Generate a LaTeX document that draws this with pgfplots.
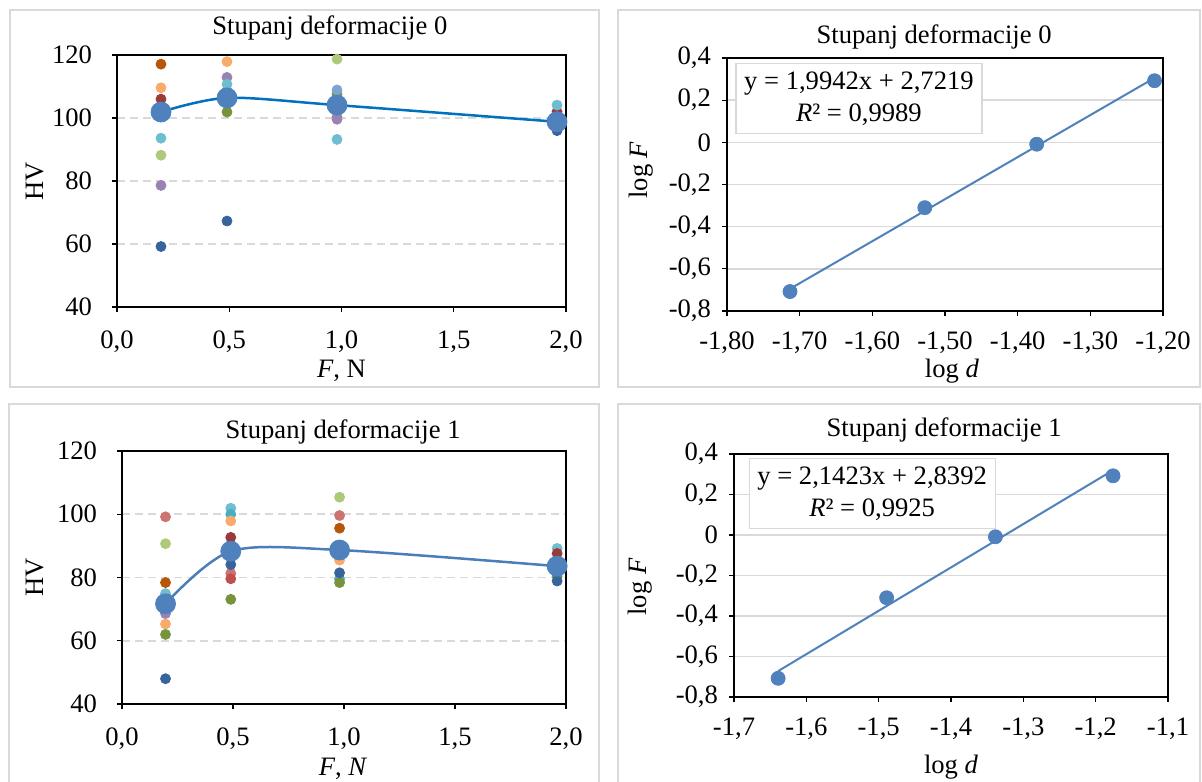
\documentclass[border=0pt]{standalone}
\usepackage{fontspec}
\setmainfont{Liberation Serif}
\usepackage{pgfplots}
\pgfplotsset{compat=1.18}
\definecolor{framegray}{HTML}{D9D9D9}
\definecolor{gridgray}{HTML}{D9D9D9}
\definecolor{cdorange}{HTML}{B65708}
\definecolor{clorange}{HTML}{F9AB6B}
\definecolor{cdred}{HTML}{9B3B39}
\definecolor{cred}{HTML}{C0504D}
\definecolor{ccyan}{HTML}{6FBDD1}
\definecolor{ccyanb}{HTML}{4BACC6}
\definecolor{clgreen}{HTML}{AFC97A}
\definecolor{cpurple}{HTML}{9983B5}
\definecolor{cdblue}{HTML}{37649A}
\definecolor{colive}{HTML}{77933C}
\definecolor{clblue}{HTML}{7FA3D1}
\definecolor{cpink}{HTML}{CD7371}
\definecolor{meanblue}{HTML}{4F81BD}
\definecolor{curveA}{HTML}{0070C0}
\definecolor{curveB}{HTML}{4A7EBB}
\newcommand\fsz{\fontsize{13.3}{16}\selectfont}
\pgfplotsset{
  base/.style={
    scale only axis, clip=false, anchor=south west,
    tick align=outside, major tick length=2.5pt, tick pos=left,
    tick style={black, line width=0.6pt},
    axis line style={line width=0.8pt},
    tick label style={font=\fsz},
    label style={font=\fsz},
    xlabel style={anchor=center},
    ylabel style={anchor=center},
  },
  leftax/.style={
    base, xmin=0, xmax=2, ymin=40, ymax=120,
    xtick={0,0.5,1,1.5,2}, xticklabels={{0,0},{0,5},{1,0},{1,5},{2,0}},
    ytick={40,60,80,100,120}, yticklabels={40,60,80,100,120},
    xticklabel style={yshift=-6pt},
    yticklabel style={xshift=-6.5pt},
    ymajorgrids, grid style={gridgray, line width=0.8pt, dash pattern=on 4pt off 2.5pt},
  },
  rightax/.style={
    base, ymin=-0.8, ymax=0.4,
    ytick={-0.8,-0.6,-0.4,-0.2,0,0.2,0.4},
    yticklabels={{-0,8},{-0,6},{-0,4},{-0,2},0,{0,2},{0,4}},
    xticklabel style={yshift=-4.5pt},
    yticklabel style={xshift=-2pt},
    ymajorgrids, grid style={gridgray, line width=0.8pt, solid},
  },
  sm/.style={only marks, mark=*, mark size=2.5pt, color=#1},
  big/.style={only marks, mark=*, mark size=5pt, color=meanblue},
  rp/.style={only marks, mark=*, mark size=3.5pt, color=meanblue},
}
\begin{document}
\begin{tikzpicture}
\useasboundingbox (0,0) rectangle (601pt,-390.5pt);
\draw[framegray, line width=1pt] (5pt,-5pt) rectangle (299.5pt,-193.5pt);
\draw[framegray, line width=1pt] (309pt,-5pt) rectangle (600pt,-193.5pt);
\draw[framegray, line width=1pt] (4.5pt,-202pt) rectangle (299.5pt,-400pt);
\draw[framegray, line width=1pt] (309pt,-202pt) rectangle (600pt,-400pt);

% ---------- top left ----------
\begin{axis}[leftax, at={(58.5pt,-153.5pt)}, width=224.5pt, height=126pt,
  xlabel={\textit{F}, N}, xlabel style={at={(axis description cs:0.5,-0.255)}},
  ylabel={HV}, ylabel style={at={(axis description cs:-0.183,0.5)}}]
\addplot[sm=cdorange] coordinates {(0.196,117.1)};
\addplot[sm=clorange] coordinates {(0.196,109.6) (0.49,117.9)};
\addplot[sm=cdred] coordinates {(0.196,106.0) (0.49,108.5) (1.96,102.0)};
\addplot[sm=cpink] coordinates {(0.98,100.2)};
\addplot[sm=cpurple] coordinates {(0.196,78.6) (0.49,112.9) (0.98,99.6)};
\addplot[sm=ccyan] coordinates {(0.196,93.6) (0.49,110.7) (0.98,93.2) (1.96,104.1)};
\addplot[sm=clgreen] coordinates {(0.196,88.2) (0.98,118.7)};
\addplot[sm=colive] coordinates {(0.49,101.9) (0.98,107.6)};
\addplot[sm=clblue] coordinates {(0.98,108.9)};
\addplot[sm=cdblue] coordinates {(0.196,59.2) (0.49,67.3) (1.96,96.0)};
\addplot[smooth, color=curveA, line width=1.25pt, no marks] coordinates {(0.196,101.9) (0.49,106.4) (0.98,104.1) (1.96,98.8)};
\addplot[big] coordinates {(0.196,101.9) (0.49,106.4) (0.98,104.1) (1.96,98.8)};
\node[font=\fsz] at (rel axis cs:0.474,1.107) {Stupanj deformacije 0};
\end{axis}

% ---------- top right ----------
\begin{axis}[rightax, at={(363.5pt,-155.5pt)}, width=218pt, height=126.5pt,
  xmin=-1.8, xmax=-1.2, xtick={-1.8,-1.7,-1.6,-1.5,-1.4,-1.3,-1.2},
  xticklabels={{-1,80},{-1,70},{-1,60},{-1,50},{-1,40},{-1,30},{-1,20}},
  xlabel={log \textit{d}}, xlabel style={at={(axis description cs:0.516,-0.237)}},
  ylabel={log \textit{F}}, ylabel style={at={(axis description cs:-0.197,0.557)}}]
\addplot[color=meanblue, line width=1pt, no marks] coordinates {(-1.7133,-0.6948) (-1.2117,0.3055)};
\addplot[rp] coordinates {(-1.7133,-0.7077) (-1.5278,-0.3098) (-1.3738,-0.0088) (-1.2117,0.2923)};
\node[draw=gridgray, fill=white, line width=0.6pt, minimum width=123pt, minimum height=35pt,
  align=center, font=\fsz, inner sep=2pt] at (axis cs:-1.6185,0.2075)
  {y = 1,9942x + 2,7219\\\textit{R}² = 0,9989};
\node[font=\fsz] at (rel axis cs:0.475,1.083) {Stupanj deformacije 0};
\end{axis}

% ---------- bottom left ----------
\begin{axis}[leftax, at={(61pt,-352pt)}, width=222pt, height=126.5pt,
  xlabel={\textit{F}, \textit{N}}, xlabel style={at={(axis description cs:0.498,-0.258)}},
  ylabel={HV}, ylabel style={at={(axis description cs:-0.196,0.502)}}]
\addplot[sm=cpink] coordinates {(0.196,99.2) (0.49,81.3) (0.98,99.6)};
\addplot[sm=clgreen] coordinates {(0.196,90.7) (0.98,105.4)};
\addplot[sm=cdorange] coordinates {(0.196,78.4) (0.98,95.6)};
\addplot[sm=ccyan] coordinates {(0.196,74.9) (0.49,101.9) (1.96,89.2)};
\addplot[sm=ccyanb] coordinates {(0.49,100.0) (0.98,79.5)};
\addplot[sm=cpurple] coordinates {(0.196,68.6) (0.49,90.5)};
\addplot[sm=clorange] coordinates {(0.196,65.3) (0.49,97.9) (0.98,85.5)};
\addplot[sm=cdred] coordinates {(0.49,92.7) (1.96,87.6)};
\addplot[sm=cred] coordinates {(0.49,79.6)};
\addplot[sm=colive] coordinates {(0.196,62.0) (0.49,73.1) (0.98,78.4) (1.96,80.4)};
\addplot[sm=cdblue] coordinates {(0.196,48.0) (0.49,84.1) (0.98,81.5) (1.96,78.9)};
\addplot[smooth, color=curveB, line width=1.25pt, no marks] coordinates {(0.196,71.7) (0.49,88.3) (0.98,88.7) (1.96,83.6)};
\addplot[big] coordinates {(0.196,71.7) (0.49,88.3) (0.98,88.7) (1.96,83.6)};
\node[font=\fsz] at (rel axis cs:0.498,1.075) {Stupanj deformacije 1};
\end{axis}

% ---------- bottom right ----------
\begin{axis}[rightax, at={(367pt,-348.5pt)}, width=217pt, height=121.5pt,
  xmin=-1.7, xmax=-1.1, xtick={-1.7,-1.6,-1.5,-1.4,-1.3,-1.2,-1.1},
  xticklabels={{-1,7},{-1,6},{-1,5},{-1,4},{-1,3},{-1,2},{-1,1}},
  xlabel={log \textit{d}}, xlabel style={at={(axis description cs:0.5,-0.288)}},
  ylabel={log \textit{F}}, ylabel style={at={(axis description cs:-0.217,0.453)}}]
\addplot[color=meanblue, line width=1pt, no marks] coordinates {(-1.639,-0.6720) (-1.176,0.3198)};
\addplot[rp] coordinates {(-1.639,-0.7077) (-1.489,-0.3098) (-1.3386,-0.0088) (-1.176,0.2923)};
\node[draw=gridgray, fill=white, line width=0.6pt, minimum width=123pt, minimum height=35pt,
  align=center, font=\fsz, inner sep=2pt] at (axis cs:-1.509,0.2045)
  {y = 2,1423x + 2,8392\\\textit{R}² = 0,9925};
\node[font=\fsz] at (rel axis cs:0.484,1.099) {Stupanj deformacije 1};
\end{axis}
\end{tikzpicture}
\end{document}
